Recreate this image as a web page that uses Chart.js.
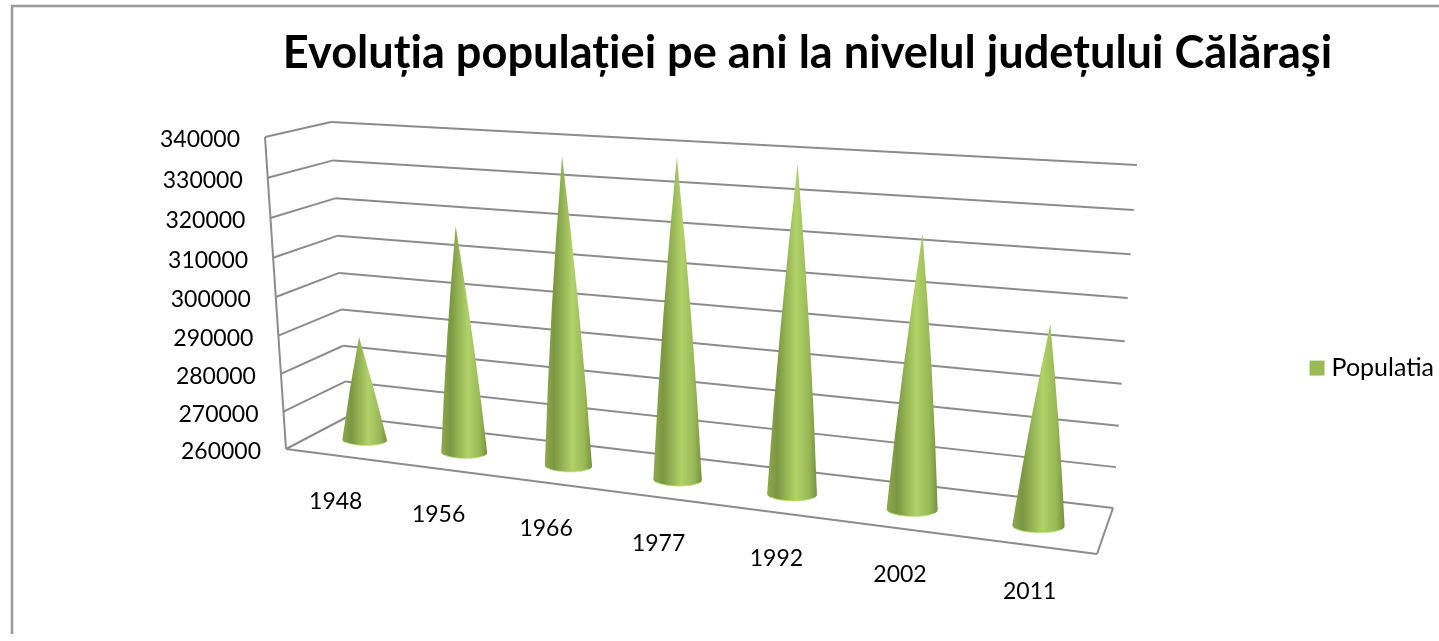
<!DOCTYPE html>
<html>
<head>
<meta charset="utf-8">
<style>
  html, body { margin: 0; background: #fff; }
  #wrap { position: relative; width: 1439px; height: 641px; }
</style>
<script src="https://cdn.jsdelivr.net/npm/chart.js@4"></script>
</head>
<body>
<div id="wrap"><canvas id="grafic" width="1439" height="641"></canvas></div>
<script>
const ani = ["1948", "1956", "1966", "1977", "1992", "2002", "2011"];
const populatia = [287700, 318500, 337300, 338800, 338800, 325000, 307000];
const titlu = "Evoluția populației pe ani la nivelul județului Călăraşi";
const numeSerie = "Populatia";
const culoareSerie = "#9bbb59";

// colturile celor trei planuri ale cutiei 3D: [stanga jos, dreapta jos, dreapta sus, stanga sus]
const planFata = [[286, 449], [1097, 554], [1122, 190], [265, 137]];
const planMijloc = [[316.5, 433.8], [1104, 534.3], [1129, 177.7], [297.5, 129.5]];
const planSpate = [[347, 417], [1113, 508], [1137, 165], [331, 122]];

// patrat unitate -> patrulater (formula Heckbert)
function proiectie(q) {
    const [p0, p1, p2, p3] = q;
    const sx = p0[0] - p1[0] + p2[0] - p3[0], sy = p0[1] - p1[1] + p2[1] - p3[1];
    const dx1 = p1[0] - p2[0], dx2 = p3[0] - p2[0], dy1 = p1[1] - p2[1], dy2 = p3[1] - p2[1];
    const den = dx1 * dy2 - dx2 * dy1;
    const g = (sx * dy2 - dx2 * sy) / den, h = (dx1 * sy - sx * dy1) / den;
    const a = p1[0] - p0[0] + g * p1[0], b = p3[0] - p0[0] + h * p3[0];
    const d = p1[1] - p0[1] + g * p1[1], e = p3[1] - p0[1] + h * p3[1];
    return (u, v) => {
        const w = g * u + h * v + 1;
        return [(a * u + b * v + p0[0]) / w, (d * u + e * v + p0[1]) / w];
    };
}
const fata = proiectie(planFata), mijloc = proiectie(planMijloc), spate = proiectie(planSpate);

function linie(ctx, a, b) {
    ctx.beginPath();
    ctx.moveTo(a[0], a[1]);
    ctx.lineTo(b[0], b[1]);
    ctx.stroke();
}

function deseneazaCon(ctx, baza, varf, rx, ry) {
    const grad = ctx.createLinearGradient(baza[0] - rx, 0, baza[0] + rx, 0);
    grad.addColorStop(0, "#8caa4b");
    grad.addColorStop(0.2, "#7b9742");
    grad.addColorStop(0.58, "#b0d268");
    grad.addColorStop(0.84, "#98b856");
    grad.addColorStop(1, "#76923f");
    // flancurile sunt putin bombate, ca in perspectiva din Excel
    const bomba = (baza[1] - varf[1]) * 0.012;
    const midY = (baza[1] + varf[1]) / 2;
    ctx.fillStyle = grad;
    ctx.beginPath();
    ctx.moveTo(varf[0], varf[1]);
    ctx.quadraticCurveTo((varf[0] + baza[0] + rx) / 2 + bomba, midY, baza[0] + rx, baza[1]);
    ctx.ellipse(baza[0], baza[1], rx, ry, 0.02, 0, Math.PI);
    ctx.quadraticCurveTo((varf[0] + baza[0] - rx) / 2 - bomba, midY, varf[0], varf[1]);
    ctx.closePath();
    ctx.fill();
    // marginea deschisa de jos
    ctx.strokeStyle = "rgba(205,232,130,0.7)";
    ctx.lineWidth = 1;
    ctx.beginPath();
    ctx.ellipse(baza[0], baza[1], rx - 1, ry, 0.02, 0.5, Math.PI - 0.5);
    ctx.stroke();
}

const cutie3D = {
    id: "cutie3D",
    beforeDatasetsDraw(chart) {
        const { ctx, chartArea: ca, scales: { y } } = chart;
        ctx.save();
        ctx.strokeStyle = "#8c8c8c";
        ctx.lineWidth = 2;
        ctx.fillStyle = "#000";
        ctx.font = "23px Lato";
        ctx.textAlign = "right";
        ctx.textBaseline = "middle";
        y.ticks.forEach(t => {
            const v = (ca.bottom - y.getPixelForValue(t.value)) / ca.height;
            linie(ctx, fata(0, v), spate(0, v));
            linie(ctx, spate(0, v), spate(1, v));
            const p = fata(0, v);
            ctx.fillText(String(t.value), p[0] - 25, p[1] + 3);
        });
        linie(ctx, fata(0, 0), fata(0, 1));
        linie(ctx, fata(0, 0), fata(1, 0));
        linie(ctx, fata(1, 0), spate(1, 0));
        ctx.restore();
    },
    afterDatasetsDraw(chart) {
        const { ctx, chartArea: ca, scales: { x } } = chart;
        const bare = chart.getDatasetMeta(0).data;
        ctx.save();
        bare.forEach(bara => {
            const u = (bara.x - ca.left) / ca.width;
            const v = (ca.bottom - bara.y) / ca.height;
            const baza = mijloc(u, 0);
            const varf = mijloc(u, v);
            deseneazaCon(ctx, baza, varf, 22 + 4.5 * u, 5.5 + 1.5 * u);
        });
        ctx.fillStyle = "#000";
        ctx.font = "23px Lato";
        ctx.textAlign = "center";
        ctx.textBaseline = "middle";
        x.ticks.forEach((t, i) => {
            const u = (x.getPixelForTick(i) - ca.left) / ca.width;
            const p = fata(u, 0);
            ctx.fillText(x.getLabelForValue(t.value), p[0], p[1] + 46);
        });
        ctx.restore();
    },
    afterDraw(chart) {
        const { ctx } = chart;
        ctx.save();
        // patratul din legenda e mai aproape de text decat lasa Chart.js
        const h = chart.legend.legendHitBoxes[0];
        ctx.fillStyle = culoareSerie;
        ctx.fillRect(h.left, h.top + h.height / 2 - 7.5, 15, 15);
        // chenarul: doar stanga si sus
        ctx.strokeStyle = "#999";
        ctx.lineWidth = 2.5;
        ctx.beginPath();
        ctx.moveTo(12, 634);
        ctx.lineTo(12, 6);
        ctx.lineTo(1439, 6);
        ctx.stroke();
        ctx.restore();
    }
};

new Chart(document.getElementById("grafic"), {
    type: "bar",
    data: {
        labels: ani,
        datasets: [{
            label: numeSerie,
            data: populatia,
            backgroundColor: "rgba(0,0,0,0)",
            borderWidth: 0
        }]
    },
    options: {
        responsive: false,
        animation: false,
        layout: { padding: { left: 171, right: -5, top: 0, bottom: 0 } },
        plugins: {
            title: {
                display: true,
                text: titlu,
                color: "#000",
                font: { family: "Lato", weight: "bold", size: 45.15 },
                padding: { top: 26, bottom: 23 },
                align: "center"
            },
            legend: {
                display: true,
                position: "right",
                fullSize: false,
                labels: {
                    color: "#000",
                    font: { family: "Lato", size: 25 },
                    boxWidth: 9.5,
                    boxHeight: 15,
                    padding: 1.5,
                    generateLabels: () => [{ text: numeSerie, fillStyle: "rgba(0,0,0,0)", strokeStyle: "rgba(0,0,0,0)", lineWidth: 0 }]
                }
            },
            tooltip: { enabled: false }
        },
        scales: {
            x: { grid: { display: false }, border: { display: false }, ticks: { display: false } },
            y: {
                min: 260000,
                max: 340000,
                grid: { display: false },
                border: { display: false },
                ticks: { display: false, stepSize: 10000 }
            }
        }
    },
    plugins: [cutie3D]
});
</script>
</body>
</html>
